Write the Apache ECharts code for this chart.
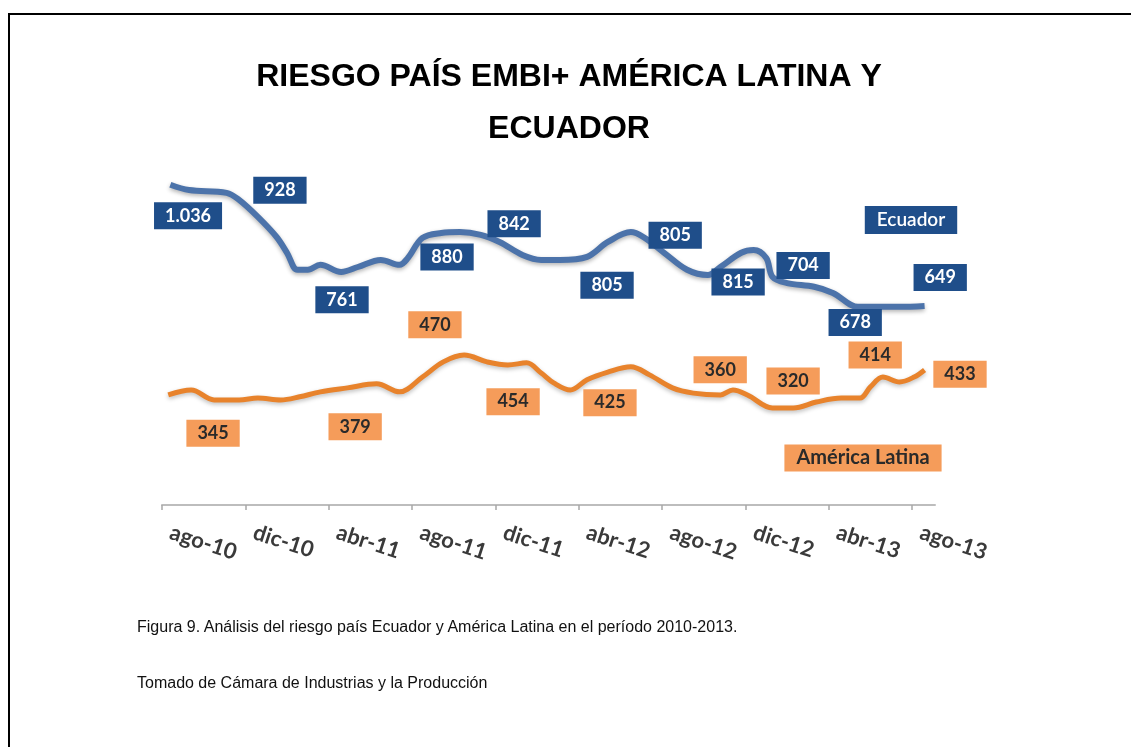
<!DOCTYPE html>
<html>
<head>
<meta charset="utf-8">
<script src="https://cdn.jsdelivr.net/npm/echarts@6/dist/echarts.min.js"></script>
<style>
  html, body { margin: 0; padding: 0; width: 1131px; height: 747px; overflow: hidden; background: #fff; }
  #frame { position: absolute; left: 8px; top: 13px; width: 1300px; height: 900px;
           border-top: 2px solid #000; border-left: 2px solid #000; }
  #chart { position: absolute; left: 0; top: 0; width: 1131px; height: 747px; }
  .caption { position: absolute; left: 137px; font: 16px "Liberation Sans", Arial, sans-serif; color: #111; white-space: nowrap; }
</style>
</head>
<body>
<div id="frame"></div>
<div id="chart"></div>
<div class="caption" style="top:618px">Figura 9. Análisis del riesgo país Ecuador y América Latina en el período 2010-2013.</div>
<div class="caption" style="top:674px">Tomado de Cámara de Industrias y la Producción</div>
<script>
// Month index 0 = ago-10; one tick label every four months
const tickLabels = ['ago-10', 'dic-10', 'abr-11', 'ago-11', 'dic-11', 'abr-12', 'ago-12', 'dic-12', 'abr-13', 'ago-13'];

// Ecuador EMBI+ spread (basis points)
const ecuadorMonths = [0.4, 1.3, 3.1, 3.7, 4.6, 5.5, 6.0, 6.5, 7.0, 7.6, 8.6, 9.4, 10.5, 11.4, 11.8, 12.5, 13.4, 14.3, 15.3, 16.2, 17.3, 18.2, 19.1, 20.4, 21.4, 22.5, 23.1, 24.1, 25.2, 26.2, 26.8, 27.8, 28.4, 29.0, 29.3, 30.0, 31.3, 32.2, 33.4, 34.1, 35.4, 36.6];
const ecuadorValues = [1036, 1019, 1010, 987, 932, 867, 816, 761, 761, 777, 754, 770, 793, 777, 799, 864, 880, 883, 874, 851, 809, 793, 793, 803, 851, 883, 867, 816, 761, 744, 770, 816, 825, 799, 738, 718, 706, 686, 641, 641, 641, 644];

// Latin America EMBI+ spread (basis points)
const latamMonths = [0.3, 1.4, 2.5, 3.7, 4.6, 5.7, 6.6, 7.6, 8.9, 10.3, 11.4, 12.5, 13.5, 14.5, 15.6, 16.6, 17.5, 18.2, 18.8, 19.6, 20.4, 21.4, 22.5, 23.4, 24.5, 25.5, 26.8, 27.4, 28.1, 29.3, 30.3, 31.4, 32.6, 33.5, 34.0, 34.6, 35.4, 36.1, 36.6];
const latamValues = [356, 372, 340, 340, 346, 340, 350, 366, 379, 392, 366, 414, 463, 485, 463, 453, 460, 427, 395, 372, 405, 430, 447, 421, 379, 362, 356, 372, 356, 314, 314, 333, 346, 346, 382, 414, 398, 414, 437];

// Highlighted readings shown in boxes
const ecuadorNoteMonths = [1.25, 5.66, 8.64, 13.68, 16.9, 21.36, 24.63, 27.65, 30.77, 33.27, 37.35];
const ecuadorNoteValues = [1036, 928, 761, 880, 842, 805, 805, 815, 704, 678, 649];
const latamNoteMonths = [2.45, 9.27, 13.1, 16.85, 21.5, 26.79, 30.29, 34.23, 38.3];
const latamNoteValues = [345, 379, 470, 454, 425, 360, 320, 414, 433];

// Vertical nudges of each box away from its reading
const ecuadorNoteShift = [31, -28, 30, 24, -21, 29, -21, 29, -22, 27, -27];
const latamNoteShift = [35, 39, -35, 37, 29, -24, -25, -22, 3];

const seriesNames = ['Ecuador', 'América Latina'];

const BLUE_LINE = '#4C73AA';
const BLUE_BOX = '#1F4E8A';
const ORANGE_LINE = '#E8832C';
const ORANGE_BOX = '#F59C5A';
const LABEL_FONT = 'Lato, "Open Sans", sans-serif';

const zip = (xs, ys) => xs.map((x, i) => [x, ys[i]]);
const fmt = v => String(v).replace(/\B(?=(\d{3})+(?!\d))/g, '.');
const tickValues = tickLabels.map((_, i) => i * 4);

function noteSeries(months, values, shifts, bg, fg) {
  return {
    type: 'scatter',
    symbolSize: 0,
    clip: false,
    z: 5,
    silent: true,
    itemStyle: { opacity: 1 },
    data: months.map((m, i) => ({
      value: [m, values[i]],
      label: { offset: [0, shifts[i]] }
    })),
    label: {
      show: true,
      position: 'inside',
      formatter: p => fmt(p.value[1]),
      backgroundColor: bg,
      color: fg,
      fontFamily: LABEL_FONT,
      fontWeight: 'bold',
      fontSize: 18,
      padding: [5, 11, 4, 11]
    }
  };
}

const chart = echarts.init(document.getElementById('chart'), null, { renderer: 'canvas' });
chart.setOption({
  animation: false,
  title: {
    text: 'RIESGO PAÍS EMBI+ AMÉRICA LATINA Y\nECUADOR',
    left: 564,
    top: 46,
    textAlign: 'center',
    textStyle: {
      fontFamily: '"Liberation Sans", Arial, sans-serif',
      fontWeight: 'bold',
      fontSize: 32,
      lineHeight: 52,
      color: '#000'
    }
  },
  grid: { left: 162, right: 196, top: 165, bottom: 242 },
  xAxis: {
    type: 'value',
    min: 0,
    max: 37.1,
    interval: 4,
    axisLine: { show: true, lineStyle: { color: '#BDBDBD', width: 2 } },
    axisTick: { show: true, length: 5, customValues: tickValues, lineStyle: { color: '#A8A8A8', width: 1.5 } },
    splitLine: { show: false },
    axisLabel: {
      customValues: tickValues,
      formatter: v => tickLabels[Math.round(v / 4)] || '',
      rotate: -18,
      margin: 24,
      padding: [0, 0, 0, 9],
      color: '#3a3a3a',
      fontFamily: LABEL_FONT,
      fontWeight: 'bold',
      fontSize: 22
    }
  },
  yAxis: {
    type: 'value',
    min: 0,
    max: 1100,
    show: false,
    splitLine: { show: false }
  },
  graphic: [
    {
      type: 'text', x: 911, y: 220, z: 10,
      style: {
        text: seriesNames[0], fill: '#fff', backgroundColor: BLUE_BOX,
        font: '600 19px ' + LABEL_FONT, align: 'center', verticalAlign: 'middle',
        padding: [5, 12, 4, 12]
      }
    },
    {
      type: 'text', x: 863, y: 458, z: 10,
      style: {
        text: seriesNames[1], fill: '#2a2a2a', backgroundColor: ORANGE_BOX,
        font: 'bold 20px ' + LABEL_FONT, align: 'center', verticalAlign: 'middle',
        padding: [4, 12, 3, 12]
      }
    }
  ],
  series: [
    {
      name: seriesNames[0],
      type: 'line',
      smooth: 0.35,
      showSymbol: false,
      data: zip(ecuadorMonths, ecuadorValues),
      lineStyle: { color: BLUE_LINE, width: 6, shadowColor: 'rgba(0,0,0,0.3)', shadowBlur: 4, shadowOffsetY: 2 },
      z: 3
    },
    {
      name: seriesNames[1],
      type: 'line',
      smooth: 0.35,
      showSymbol: false,
      data: zip(latamMonths, latamValues),
      lineStyle: { color: ORANGE_LINE, width: 5, shadowColor: 'rgba(0,0,0,0.25)', shadowBlur: 4, shadowOffsetY: 2 },
      z: 3
    },
    noteSeries(ecuadorNoteMonths, ecuadorNoteValues, ecuadorNoteShift, BLUE_BOX, '#fff'),
    noteSeries(latamNoteMonths, latamNoteValues, latamNoteShift, ORANGE_BOX, '#2a2a2a')
  ]
});
</script>
</body>
</html>
